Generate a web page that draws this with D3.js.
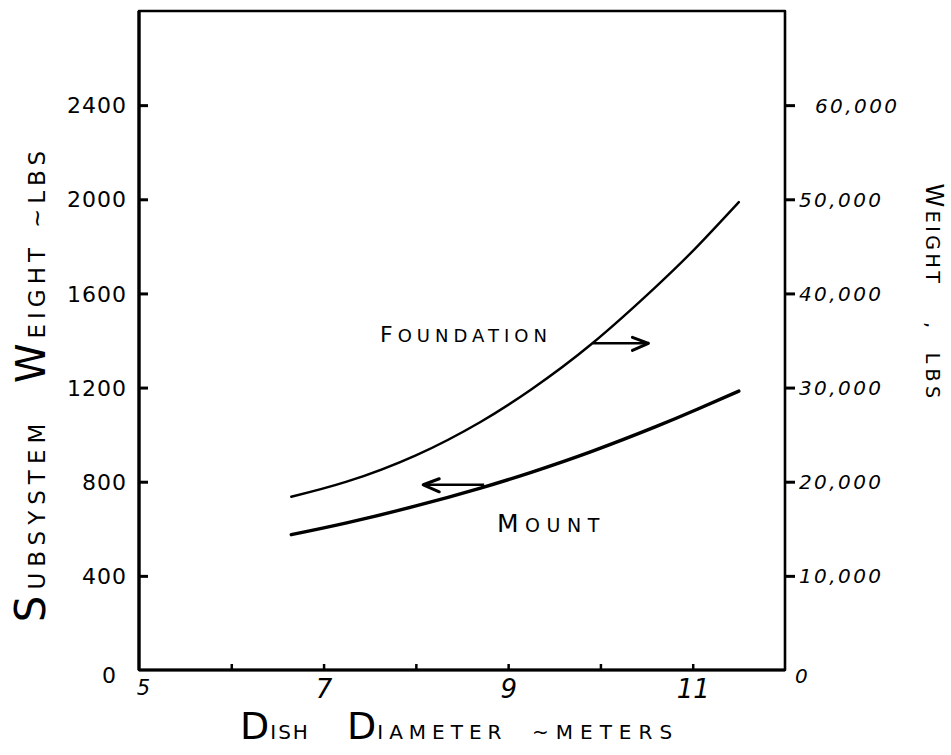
<!DOCTYPE html>
<html>
<head>
<meta charset="utf-8">
<script src="https://cdn.jsdelivr.net/npm/d3@7"></script>
<style>
  html, body { margin: 0; padding: 0; background: #fff; }
  svg { display: block; }
  text { font-family: "DejaVu Sans", sans-serif; fill: #000; }
</style>
</head>
<body>
<svg id="chart" width="951" height="755"></svg>
<script>
// ---- data ----
const diameters      = [6.65, 7.25, 8.0, 8.7, 9.25, 9.9, 10.6, 11.05, 11.5];   // meters
const foundationLbs  = [18400, 20000, 22800, 26350, 29800, 34600, 40700, 45000, 49700]; // right axis
const mountLbs       = [575, 625, 697, 773, 840, 928, 1034, 1108, 1185];      // left axis
const leftTicks      = [0, 400, 800, 1200, 1600, 2000, 2400];
const rightTicks     = [0, 10000, 20000, 30000, 40000, 50000, 60000];
const xTicks         = [5, 6, 7, 8, 9, 10, 11];
const xLabelled      = [5, 7, 9, 11];
// annotation arrows: [fromDiameter, toDiameter, value, axis]
const foundationArrow = [9.92, 10.52, 34700, "right"];
const mountArrow      = [8.74, 8.08, 787, "left"];

const svg = d3.select("#chart");
const L = 139, R = 785, T = 11, B = 670;

const x  = d3.scaleLinear().domain([5, 12]).range([L, R]);
const yL = d3.scaleLinear().domain([0, 2800]).range([B, T]);
const yR = d3.scaleLinear().domain([0, 70000]).range([B, T]);

// frame
svg.append("path")
  .attr("d", `M${L},${B} L${L},${T} L${R},${T} L${R},${B} Z`)
  .attr("fill", "none").attr("stroke", "#000").attr("stroke-width", 2.6)
  .attr("stroke-linejoin", "round");
svg.append("line").attr("x1", L).attr("x2", L).attr("y1", T).attr("y2", B)
  .attr("stroke", "#000").attr("stroke-width", 3.2);
svg.append("line").attr("x1", L).attr("x2", R).attr("y1", B).attr("y2", B)
  .attr("stroke", "#000").attr("stroke-width", 3.2);

// left axis (ticks inward)
const gl = svg.append("g").attr("transform", `translate(${L},0)`)
  .call(d3.axisLeft(yL).tickValues(leftTicks).tickSizeInner(-9).tickSizeOuter(0).tickPadding(12).tickFormat(d3.format("d")));
gl.select(".domain").remove();
gl.selectAll(".tick line").attr("stroke", "#000").attr("stroke-width", 3)
  .filter(d => d === 0).remove();
gl.selectAll(".tick text").attr("font-size", 22).attr("letter-spacing", 1)
  .attr("dy", d => d === 0 ? "0.55em" : "0.35em")
  .attr("x", d => d === 0 ? -22 : -12);

// right axis (ticks outward)
const gr = svg.append("g").attr("transform", `translate(${R},0)`)
  .call(d3.axisRight(yR).tickValues(rightTicks).tickSizeInner(10).tickSizeOuter(0).tickPadding(6).tickFormat(d3.format(",")));
gr.select(".domain").remove();
gr.selectAll(".tick line").attr("stroke", "#000").attr("stroke-width", 3)
  .filter(d => d === 0).remove();
gr.selectAll(".tick text").attr("font-size", 20).attr("font-style", "italic").attr("letter-spacing", 2.4)
  .attr("dy", d => d === 0 ? "0.6em" : "0.35em")
  .attr("x", d => d === 60000 ? 30 : (d === 0 ? 10 : 14));

// bottom axis (ticks inward)
const gb = svg.append("g").attr("transform", `translate(0,${B})`)
  .call(d3.axisBottom(x).tickValues(xTicks).tickSizeInner(-6).tickSizeOuter(0).tickPadding(10)
    .tickFormat(d => xLabelled.includes(d) ? String(d) : ""));
gb.select(".domain").remove();
gb.selectAll(".tick line").attr("stroke", "#000").attr("stroke-width", 2.5)
  .filter(d => d === 5).remove();
gb.selectAll(".tick text").attr("font-size", d => d === 5 ? 21 : 26).attr("font-style", "italic")
  .attr("dx", d => d === 5 ? 4 : 0);

// curves
const line = (yScale) => d3.line().x(d => x(d[0])).y(d => yScale(d[1])).curve(d3.curveNatural);
svg.append("path").datum(diameters.map((d, i) => [d, foundationLbs[i]]))
  .attr("d", line(yR)).attr("fill", "none").attr("stroke", "#000").attr("stroke-width", 2.4)
  .attr("stroke-linecap", "round");
svg.append("path").datum(diameters.map((d, i) => [d, mountLbs[i]]))
  .attr("d", line(yL)).attr("fill", "none").attr("stroke", "#000").attr("stroke-width", 3.4)
  .attr("stroke-linecap", "round");

// arrows
function arrow(a) {
  const ys = a[3] === "right" ? yR : yL;
  const x0 = x(a[0]), x1 = x(a[1]), yy = ys(a[2]);
  const dir = Math.sign(x1 - x0);
  svg.append("line").attr("x1", x0).attr("y1", yy).attr("x2", x1).attr("y2", yy)
    .attr("stroke", "#000").attr("stroke-width", 2.6);
  svg.append("path")
    .attr("d", `M${x1},${yy} L${x1 - dir * 16},${yy - 6} M${x1},${yy} L${x1 - dir * 16},${yy + 7}`)
    .attr("fill", "none").attr("stroke", "#000").attr("stroke-width", 3).attr("stroke-linecap", "round");
}
arrow(foundationArrow);
arrow(mountArrow);

// series labels
function capsLabel(g, first, rest, big, small, spacing) {
  const t = g.append("text");
  t.append("tspan").attr("font-size", big).attr("letter-spacing", spacing).text(first);
  t.append("tspan").attr("font-size", small).attr("letter-spacing", spacing).text(rest);
  return t;
}
capsLabel(svg, "F", "OUNDATION", 22, 18, 5).attr("x", 380).attr("y", 342);
capsLabel(svg, "M", "OUNT", 25, 19, 6.5).attr("x", 497).attr("y", 532);

// rotated title pieces
function rotPiece(cx, cy, rot, first, rest, big, small, spacing) {
  const g = svg.append("g").attr("transform", `translate(${cx},${cy}) rotate(${rot})`);
  const t = g.append("text").attr("text-anchor", "middle");
  if (first) t.append("tspan").attr("font-size", big).attr("letter-spacing", spacing).text(first);
  t.append("tspan").attr("font-size", small).attr("letter-spacing", spacing).text(rest);
  return t;
}
// left title (reading bottom to top)
rotPiece(45, 520, -90, "S", "UBSYSTEM", 42, 23, 6);
rotPiece(45, 313, -90, "W", "EIGHT", 40, 23, 5);
rotPiece(45, 187, -90, "", "~LBS", 0, 23, 5);

// right title (reading top to bottom)
rotPiece(926, 235, 90, "W", "EIGHT", 24, 19, 3.5);
rotPiece(926, 325, 90, "", ",", 0, 19, 0);
rotPiece(926, 378, 90, "", "LBS", 0, 19, 5);

// bottom title
function piece(px, first, rest, spacing) {
  const t = svg.append("text").attr("x", px).attr("y", 739);
  if (first) t.append("tspan").attr("font-size", 38).attr("letter-spacing", 1).text(first);
  t.append("tspan").attr("font-size", 20).attr("letter-spacing", spacing).text(rest);
}
piece(240, "D", "ISH", 2);
piece(347, "D", "IAMETER", 6);
piece(532, "", "~METERS", 7);
</script>
</body>
</html>
